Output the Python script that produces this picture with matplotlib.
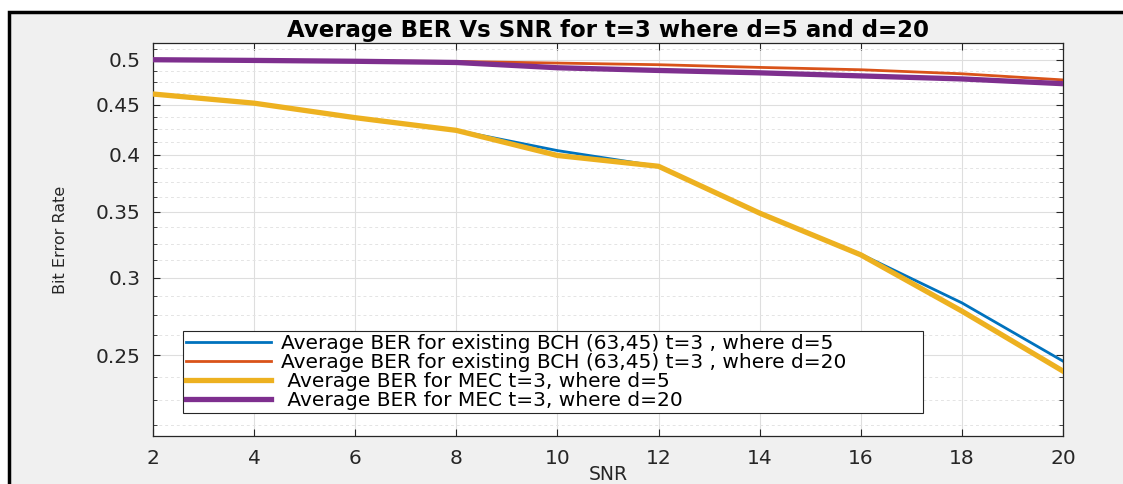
import numpy as np
import matplotlib
matplotlib.use('Agg')
import matplotlib.pyplot as plt
from matplotlib.patches import Rectangle
from matplotlib.ticker import FixedLocator, FixedFormatter, NullFormatter

snr = [2, 4, 6, 8, 10, 12, 14, 16, 18, 20]
ber_bch_d5 = [0.4614, 0.4516, 0.4365, 0.4237, 0.4041, 0.3895, 0.3490, 0.3170, 0.2828, 0.2467]
ber_bch_d20 = [0.5000, 0.4992, 0.4985, 0.4980, 0.4961, 0.4942, 0.4911, 0.4884, 0.4838, 0.4769]
ber_mec_d5 = [0.4614, 0.4516, 0.4365, 0.4237, 0.3995, 0.3895, 0.3490, 0.3165, 0.2774, 0.2410]
ber_mec_d20 = [0.5000, 0.4992, 0.4982, 0.4968, 0.4907, 0.4876, 0.4849, 0.4814, 0.4780, 0.4727]

labels = [
    "Average BER for existing BCH (63,45) t=3 , where d=5",
    "Average BER for existing BCH (63,45) t=3 , where d=20",
    " Average BER for MEC t=3, where d=5",
    " Average BER for MEC t=3, where d=20",
]
yticks = [0.25, 0.3, 0.35, 0.4, 0.45, 0.5]
ytick_labels = ["0.25", "0.3", "0.35", "0.4", "0.45", "0.5"]
xticks = [2, 4, 6, 8, 10, 12, 14, 16, 18, 20]

plt.rcParams['font.family'] = ['DejaVu Sans']

fig = plt.figure(figsize=(11.23, 4.84), dpi=100, facecolor='white')
# gray MATLAB-like figure panel with black border on top/left
fig.patches.append(Rectangle((9 / 1123, -0.1), 1.2, (484 - 12) / 484 + 0.1,
                             transform=fig.transFigure, facecolor='#f0f0f0',
                             edgecolor='black', linewidth=2.5, zorder=-10))

ax = fig.add_axes([153 / 1123, 48 / 484, 910 / 1123, 393 / 484])
ax.set_facecolor('white')

# thin BCH lines sit under the thick MEC lines
ax.plot(snr, ber_bch_d5, color='#0072BD', lw=2, label=labels[0], zorder=2)
ax.plot(snr, ber_bch_d20, color='#D95319', lw=2, label=labels[1], zorder=2)
ax.plot(snr, ber_mec_d5, color='#EDB120', lw=3.8, label=labels[2], zorder=3)
ax.plot(snr, ber_mec_d20, color='#7E2F8E', lw=3.8, label=labels[3], zorder=3)

ax.set_yscale('log')
ax.set_xlim(2, 20)
ax.set_ylim(0.207, 0.52)
ax.xaxis.set_major_locator(FixedLocator(xticks))
ax.yaxis.set_major_locator(FixedLocator(yticks))
ax.yaxis.set_major_formatter(FixedFormatter(ytick_labels))
minor = [v for v in np.arange(0.2125, 0.52, 0.0125) if min(abs(v - t) for t in yticks) > 1e-6]
ax.yaxis.set_minor_locator(FixedLocator(minor))
ax.yaxis.set_minor_formatter(NullFormatter())

ax.tick_params(which='both', direction='in', top=True, right=True, colors='#262626',
               labelsize=14.5, labelcolor='#262626')
ax.tick_params(which='major', length=5, width=0.8, pad=9)
ax.tick_params(which='minor', length=3, width=0.6)
ax.grid(True, which='major', color='#dedede', lw=0.8)
ax.grid(True, which='minor', axis='y', color='#e4e4e4', lw=0.7, linestyle=(0, (3, 3)))
ax.set_axisbelow(True)
for s in ax.spines.values():
    s.set_color('#262626')
    s.set_linewidth(0.9)

ax.set_title("Average BER Vs SNR for t=3 where d=5 and d=20", fontsize=16.5,
             fontweight='bold', pad=4)
ax.set_xlabel("SNR", fontsize=13.5, color='#262626', va='baseline')
ax.xaxis.set_label_coords(0.5, -0.113)
ax.set_ylabel("Bit Error Rate", fontsize=11.5, color='#262626', labelpad=20)

leg = ax.legend(loc='lower left', bbox_to_anchor=(0.033, 0.0585, 0.813, 0.206),
                mode='expand', borderaxespad=0,
                fontsize=14.5, handlelength=4.2, handletextpad=0.5, labelspacing=0.0,
                borderpad=0.15, fancybox=False, framealpha=1, edgecolor='#262626')
leg.get_frame().set_linewidth(0.8)

plt.savefig("out.png", dpi=100, facecolor=fig.get_facecolor())
